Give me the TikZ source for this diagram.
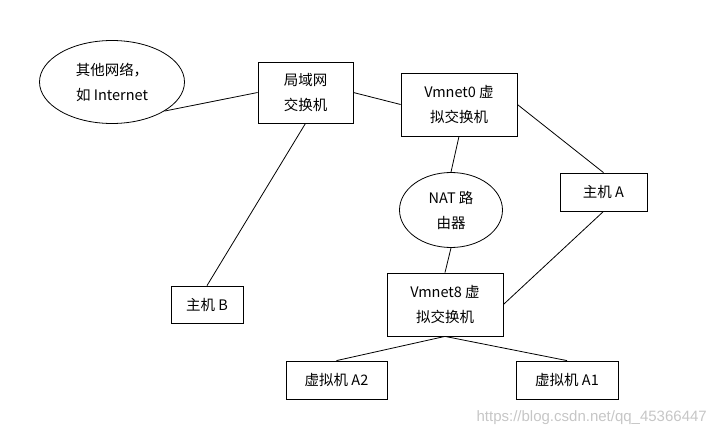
\documentclass[tikz,border=0pt]{standalone}
\usepackage{fontspec}
\setmainfont{Noto Sans CJK SC}
\newfontfamily\markfont{Liberation Sans}
\usetikzlibrary{positioning,shapes.geometric}

\begin{document}
\begin{tikzpicture}[x=1pt,y=-1pt,
  netbox/.style={draw, line width=0.8pt, inner sep=0pt, align=center,
    font={\fontsize{14.5pt}{25pt}\selectfont}},
  netoval/.style={netbox, ellipse},
  link/.style={line width=0.8pt}]

\useasboundingbox (0,0) rectangle (716,436);

% networks and switches
\node[netoval, minimum width=145pt, minimum height=83pt] (inet) at (112,82) {其他网络，\\如 Internet};
\node[netbox, minimum width=95pt, minimum height=61pt] (lan) at (305.5,92.5) {局域网\\交换机};
\node[netbox, minimum width=116pt, minimum height=63pt] (vm0) at (459,104.5) {Vmnet0 虚\\拟交换机};
\node[netoval, minimum width=103pt, minimum height=75pt] (nat) at (451,210) {NAT 路\\由器};
\node[netbox, minimum width=116pt, minimum height=63pt] (vm8) at (445,304.5) {Vmnet8 虚\\拟交换机};

% hosts
\node[netbox, minimum width=87pt, minimum height=38pt] (hosta) at (603.5,192) {主机 A};
\node[netbox, minimum width=72pt, minimum height=37pt] (hostb) at (207,304.5) {主机 B};
\node[netbox, minimum width=101pt, minimum height=38pt] (vma2) at (336.5,380) {虚拟机 A2};
\node[netbox, minimum width=102pt, minimum height=38pt] (vma1) at (567,380) {虚拟机 A1};

\draw[link] (inet.-29) -- (lan.west);
\draw[link] (lan.east) -- (vm0.west);
\draw[link] (lan.south) -- (hostb.north);
\draw[link] (vm0.south) -- (nat.north);
\draw[link] (vm0.east) -- (hosta.north);
\draw[link] (nat.south) -- (vm8.north);
\draw[link] (hosta.south) -- (vm8.east);
\draw[link] (vm8.south) -- (vma2.north);
\draw[link] (vm8.south) -- (vma1.north);

\node[text=gray!45, font={\markfont\fontsize{15pt}{18pt}\selectfont}, anchor=east, inner sep=0pt] (mark) at (707,418) {https://blog.csdn.net/qq\_45366447};

\end{tikzpicture}
\end{document}
